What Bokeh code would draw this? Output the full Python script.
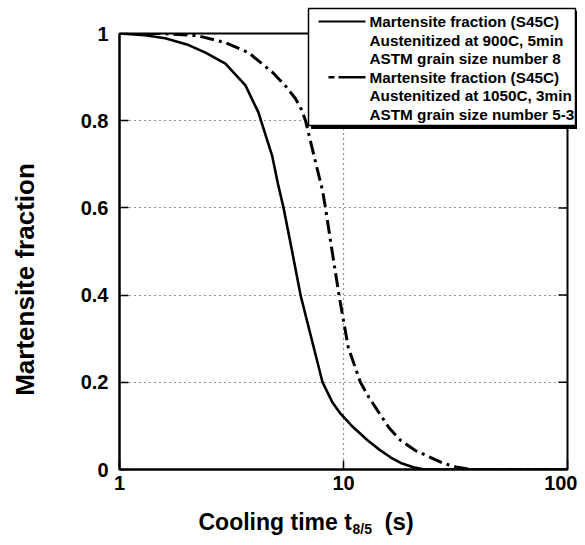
import math
from bokeh.plotting import figure
from bokeh.models import FixedTicker, Range1d
from bokeh.core.properties import value
from bokeh.embed import file_html
from bokeh.resources import INLINE

# ---------------- data ----------------
t_900 = [1, 1.3, 1.6, 2.0, 2.42, 2.97, 3.65, 4.17, 4.5, 4.8, 5.1, 5.4, 5.9, 6.43, 7.2, 8.06, 8.9, 9.7, 11, 12.8, 14.5, 16.2, 18, 20.5, 23, 100]
m_900 = [1.0, 0.996, 0.989, 0.975, 0.956, 0.931, 0.881, 0.819, 0.765, 0.72, 0.655, 0.6, 0.5, 0.4, 0.3, 0.2, 0.155, 0.128, 0.098, 0.067, 0.045, 0.028, 0.015, 0.005, 0.0, 0.0]

t_1050 = [1, 1.5, 2.23, 2.97, 3.77, 4.82, 5.5, 6.1, 6.5, 6.77, 7.3, 8.06, 8.31, 8.9, 9.55, 10.5, 11.9, 13, 14.2, 16, 17.96, 21, 24.4, 28, 32.3, 37, 100]
m_1050 = [1.0, 1.0, 0.995, 0.979, 0.956, 0.911, 0.88, 0.851, 0.825, 0.8, 0.73, 0.64, 0.6, 0.5, 0.4, 0.28, 0.2, 0.165, 0.135, 0.095, 0.067, 0.043, 0.028, 0.014, 0.005, 0.0, 0.0]

x_ticks = [1, 10, 100]
y_ticks = [0, 0.2, 0.4, 0.6, 0.8, 1.0]
y_tick_labels = {0: "0", 0.2: "0.2", 0.4: "0.4", 0.6: "0.6", 0.8: "0.8", 1.0: "1"}

legend_lines_1 = ["Martensite fraction (S45C)", "Austenitized at 900C, 5min", "ASTM grain size number 8"]
legend_lines_2 = ["Martensite fraction (S45C)", "Austenitized at 1050C, 3min", "ASTM grain size number 5-3"]

FONT = "Liberation Sans"

# frame geometry (page pixels)
FL, FT, FW, FH = 119, 33, 448, 436
X0, X1, Y0, Y1 = 1, 100, 0, 1

p = figure(x_axis_type="log", x_range=Range1d(X0, X1), y_range=Range1d(Y0, Y1),
           frame_width=FW, frame_height=FH,
           min_border_left=FL, min_border_right=10, min_border_top=FT, min_border_bottom=68,
           output_backend="svg", toolbar_location=None)
p.background_fill_color = "white"
p.border_fill_color = "white"
p.outline_line_color = "black"
p.outline_line_width = 2

for ax in (p.xaxis[0], p.yaxis[0]):
    ax.axis_line_width = 2
    ax.major_tick_in = 9
    ax.major_tick_out = 0
    ax.major_tick_line_width = 1.5
    ax.minor_tick_line_color = None
    ax.major_label_text_font = FONT
    ax.major_label_text_font_style = "bold"
    ax.major_label_text_font_size = "20px"
    ax.major_label_text_color = "black"

p.xaxis.ticker = FixedTicker(ticks=x_ticks)
p.xaxis.major_label_overrides = {1: "1", 10: "10", 100: "100"}
p.xaxis.major_label_standoff = 6
p.yaxis.ticker = FixedTicker(ticks=y_ticks)
p.yaxis.major_label_overrides = y_tick_labels
p.yaxis.major_label_standoff = 11

p.xgrid.ticker = FixedTicker(ticks=[10])
p.ygrid.ticker = FixedTicker(ticks=[0.2, 0.4, 0.6, 0.8])
for g in (p.xgrid[0], p.ygrid[0]):
    g.grid_line_color = "black"
    g.grid_line_dash = "1 4"
    g.grid_line_width = 1.2
    g.grid_line_alpha = 0.85

p.line(t_900, m_900, line_color="black", line_width=2.6)
p.line(t_1050, m_1050, line_color="black", line_width=3, line_dash="14 5 3 5")

# ---- decorations outside the frame: overlay-level glyphs (not clipped) ----
def dx(px):  # page px -> data x (log axis)
    return X0 * (X1 / X0) ** ((px - FL) / FW)
def dy(py):  # page py -> data y
    return Y0 + (Y1 - Y0) * (FT + FH - py) / FH

# inward ticks on the right edge, at the y tick values
n = len(y_ticks)
p.segment(x0=[dx(FL + FW - 9)] * n, x1=[X1] * n, y0=y_ticks, y1=y_ticks,
          line_color="black", line_width=1.5)

def txt(px, py, text, size, align="left", angle=0.0):
    p.text(x=[dx(px)], y=[dy(py)], text=[text], angle=angle,
           text_font=value(FONT), text_font_style="bold", text_font_size=value(size),
           text_color="black", text_align=align, text_baseline="middle", level="overlay")

txt(24, 279, "Martensite fraction", "26px", align="center", angle=math.pi / 2)
txt(198, 521, "Cooling time t", "23px")
txt(352, 528, "8/5", "14px")
txt(384, 521, "(s)", "24px")

def box(l, r, t, b, **kw):
    p.quad(left=[dx(l)], right=[dx(r)], top=[dy(t)], bottom=[dy(b)], level="overlay", **kw)

box(311, 578, 11, 128, fill_color="black", line_color="black")
box(308, 575, 8, 125, fill_color="white", line_color="black", line_width=1.5)

line_h = 18.6
for i, t in enumerate(legend_lines_1 + legend_lines_2):
    txt(369, 21 + i * line_h, t, "15.3px")

def seg(x0, x1, py, **kw):
    p.line(x=[dx(x0), dx(x1)], y=[dy(py), dy(py)], line_color="black", level="overlay", **kw)

seg(318, 365, 21, line_width=2)
seg(328, 365, 21 + 3 * line_h, line_width=2.5, line_dash="6 4 26 0")

open("out.html", "w").write(file_html(p, INLINE))
